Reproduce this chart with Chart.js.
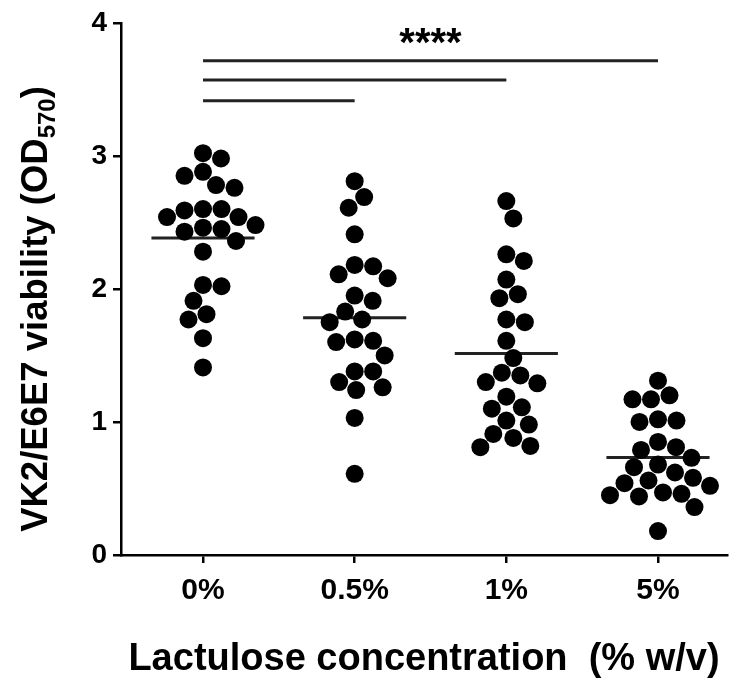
<!DOCTYPE html>
<html lang="en">
<head>
    <meta charset="UTF-8">
    <title>VK2/E6E7 viability vs lactulose</title>
    <script src="https://cdn.jsdelivr.net/npm/chart.js"></script>
    <style>
        html, body { margin: 0; background: #fff; overflow: hidden; }
        #wrap { width: 736px; height: 682px; }
    </style>
</head>
<body>
    <div id="wrap"><canvas id="chart"></canvas></div>

    <script>
        // OD570 readings per lactulose concentration (24 wells each)
        const categories = ['0%', '0.5%', '1%', '5%'];
        const lac0 = [3.02, 2.98, 2.88, 2.85, 2.78, 2.76, 2.60, 2.60, 2.59, 2.54, 2.54, 2.48, 2.46, 2.45, 2.43, 2.36, 2.28, 2.03, 2.02, 1.91, 1.81, 1.77, 1.63, 1.41];
        const lac05 = [2.81, 2.69, 2.61, 2.41, 2.18, 2.17, 2.11, 2.08, 1.95, 1.91, 1.83, 1.77, 1.75, 1.62, 1.61, 1.60, 1.50, 1.38, 1.38, 1.30, 1.26, 1.24, 1.03, 0.61];
        const lac1 = [2.66, 2.53, 2.26, 2.21, 2.07, 1.96, 1.93, 1.77, 1.75, 1.61, 1.48, 1.37, 1.35, 1.30, 1.29, 1.19, 1.11, 1.10, 1.01, 0.98, 0.91, 0.88, 0.82, 0.81];
        const lac5 = [1.31, 1.20, 1.17, 1.17, 1.02, 1.01, 1.00, 0.85, 0.81, 0.79, 0.73, 0.68, 0.66, 0.62, 0.58, 0.56, 0.54, 0.52, 0.47, 0.46, 0.45, 0.44, 0.36, 0.18];
        const groups = [lac0, lac05, lac1, lac5];

        // significance: each treatment vs 0%
        const sigPairs = [[0, 1], [0, 2], [0, 3]];
        const sigLabel = '****';

        // drawing constants
        const barLevels = [3.415, 3.57, 3.715];
        const meanHalfWidth = 0.34;
        const dotRadius = 9;
        const firstColPx = 203, lastColPx = 658;
        const font = 'Arial, "Liberation Sans", sans-serif';

        Chart.defaults.font.family = font;
        Chart.defaults.color = '#000';

        const mean = arr => arr.reduce((a, b) => a + b, 0) / arr.length;

        const datasets = [];
        groups.forEach((vals, g) => {
            datasets.push({
                type: 'scatter',
                data: vals.map(v => ({ x: g, y: v })),
                backgroundColor: '#000',
                borderWidth: 0,
                pointRadius: dotRadius,
                pointHoverRadius: dotRadius,
                clip: false
            });
        });
        groups.forEach((vals, g) => {
            const m = mean(vals);
            datasets.push({
                type: 'line',
                data: [{ x: g - meanHalfWidth, y: m }, { x: g + meanHalfWidth, y: m }],
                borderColor: '#222',
                borderWidth: 3,
                pointRadius: 0,
                clip: false
            });
        });
        sigPairs.forEach((p, i) => {
            datasets.push({
                type: 'line',
                data: [{ x: p[0], y: barLevels[i] }, { x: p[1], y: barLevels[i] }],
                borderColor: '#222',
                borderWidth: 3,
                pointRadius: 0,
                clip: false
            });
        });

        // y title with subscript, and the star label over the bars
        const extras = {
            id: 'extras',
            afterDraw(chart) {
                const ctx = chart.ctx;
                ctx.save();
                ctx.fillStyle = '#000';
                const big = 'bold 36.5px ' + font;
                const small = 'bold 24px ' + font;
                const parts = [['VK2/E6E7 viability (OD', big, 0], ['570', small, 8], [')', big, 0]];
                let total = 0;
                parts.forEach(p => { ctx.font = p[1]; total += ctx.measureText(p[0]).width; });
                ctx.translate(47, 309);
                ctx.rotate(-Math.PI / 2);
                ctx.textBaseline = 'alphabetic';
                ctx.textAlign = 'left';
                let x = -total / 2;
                parts.forEach(p => {
                    ctx.font = p[1];
                    ctx.fillText(p[0], x, p[2]);
                    x += ctx.measureText(p[0]).width;
                });
                ctx.restore();

                const xs = chart.scales.x, ys = chart.scales.y;
                const top = sigPairs[sigPairs.length - 1];
                ctx.save();
                ctx.font = 'bold 40px ' + font;
                ctx.textAlign = 'center';
                ctx.textBaseline = 'alphabetic';
                ctx.fillStyle = '#000';
                ctx.fillText(sigLabel, (xs.getPixelForValue(top[0]) + xs.getPixelForValue(top[1])) / 2,
                    ys.getPixelForValue(barLevels[barLevels.length - 1]) - 5);
                ctx.restore();
            }
        };

        const chart = new Chart(document.getElementById('chart'), {
            data: { datasets: datasets },
            options: {
                responsive: true,
                maintainAspectRatio: false,
                animation: false,
                events: [],
                layout: { padding: { top: 22, right: -9, left: 0, bottom: 0 } },
                plugins: { legend: { display: false }, tooltip: { enabled: false } },
                scales: {
                    x: {
                        type: 'linear',
                        min: -0.541,
                        max: 3.514,
                        afterBuildTicks: scale => { scale.ticks = categories.map((c, i) => ({ value: i })); },
                        afterFit: scale => {
                            scale.height = 127;
                            scale.paddingLeft = 0;
                            scale.paddingRight = 0;
                        },
                        ticks: {
                            callback: v => categories[v],
                            font: { size: 30, weight: 'bold' },
                            padding: 10,
                            maxRotation: 0
                        },
                        grid: { drawOnChartArea: false, tickLength: 8, tickColor: '#000', lineWidth: 2.5 },
                        border: { color: '#000', width: 2.5 },
                        title: {
                            display: true,
                            text: 'Lactulose concentration  (% w/v)',
                            font: { size: 38, weight: 'bold' },
                            padding: { top: 0, bottom: 0 }
                        }
                    },
                    y: {
                        min: 0,
                        max: 4,
                        afterFit: scale => { scale.width = 121; },
                        ticks: { stepSize: 1, font: { size: 28, weight: 'bold' }, padding: 6 },
                        grid: { drawOnChartArea: false, tickLength: 8, tickColor: '#000', lineWidth: 2.5 },
                        border: { color: '#000', width: 2.5 }
                    }
                }
            },
            plugins: [extras]
        });

        // pin the first and last columns to fixed pixel spots
        const area = chart.chartArea;
        const colStep = (lastColPx - firstColPx) / (categories.length - 1);
        chart.options.scales.x.min = -(firstColPx - area.left) / colStep;
        chart.options.scales.x.max = (area.right - firstColPx) / colStep;
        chart.update('none');

        // spread each column sideways so dots don't overlap (beeswarm)
        function swarm(values, ys, pxPerUnit) {
            const d = dotRadius * 2 + 0.5;
            const placed = [];
            const offsets = new Array(values.length).fill(0);
            const order = values.map((v, i) => i).sort((a, b) => values[b] - values[a]);
            order.forEach(i => {
                const py = ys.getPixelForValue(values[i]);
                for (let k = 0; k < 400; k++) {
                    const dx = (k % 2 ? 1 : -1) * Math.ceil(k / 2) * 0.5;
                    const hit = placed.some(p => (dx - p.dx) ** 2 + (py - p.py) ** 2 < d * d);
                    if (!hit) {
                        placed.push({ dx: dx, py: py });
                        offsets[i] = dx / pxPerUnit;
                        break;
                    }
                }
            });
            return offsets;
        }

        const pxPerUnit = chart.scales.x.getPixelForValue(1) - chart.scales.x.getPixelForValue(0);
        groups.forEach((vals, g) => {
            const off = swarm(vals, chart.scales.y, pxPerUnit);
            chart.data.datasets[g].data = vals.map((v, i) => ({ x: g + off[i], y: v }));
        });
        chart.update('none');
    </script>
</body>
</html>
